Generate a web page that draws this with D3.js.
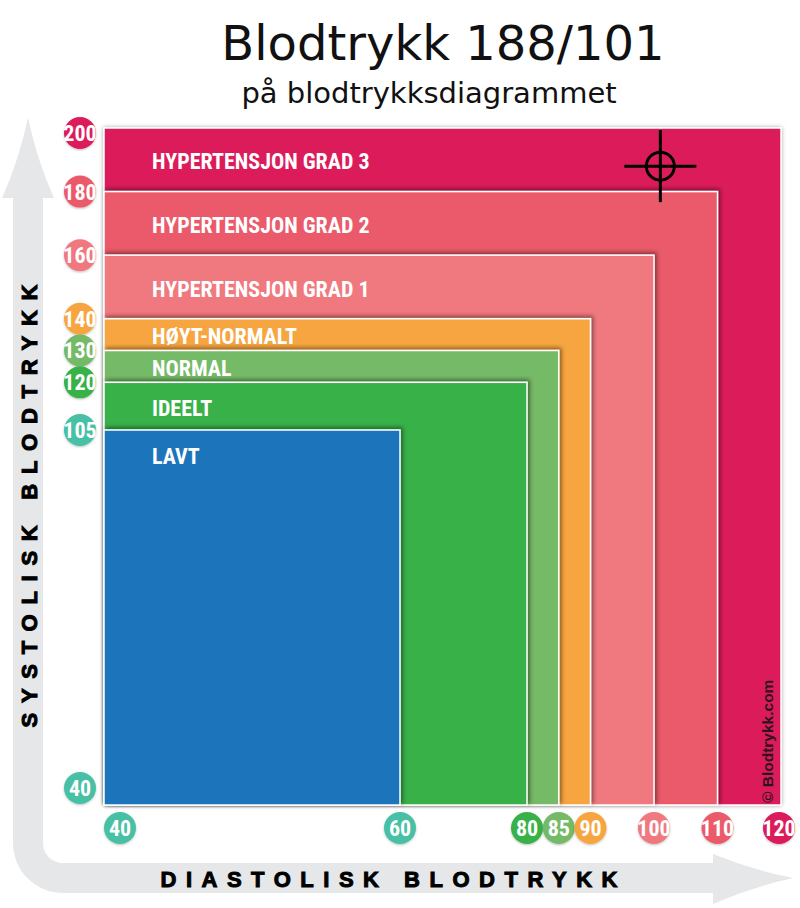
<!DOCTYPE html>
<html>
<head>
<meta charset="utf-8">
<script src="https://cdn.jsdelivr.net/npm/d3@7"></script>
<style>
  body { margin: 0; background: #fff; }
  svg { display: block; }
</style>
</head>
<body>
<div id="chart"></div>
<script>
// bands, drawn from the largest to the smallest
const categories = ["HYPERTENSJON GRAD 3", "HYPERTENSJON GRAD 2", "HYPERTENSJON GRAD 1",
                    "HØYT-NORMALT", "NORMAL", "IDEELT", "LAVT"];
const systolic  = [200, 180, 160, 140, 130, 120, 105];
const diastolic = [120, 110, 100, 90, 85, 80, 60];
const colors    = ["#dc1a5a", "#eb5a6a", "#f07980", "#f7a541", "#74ba66", "#39b14a", "#1c74bb"];

// tick circles
const sysTicks = [200, 180, 160, 140, 130, 120, 105, 40];
const sysTickColors = ["#dc1a5a", "#eb5a6a", "#f07980", "#f7a541", "#74ba66", "#39b14a", "#47c0a5", "#47c0a5"];
const diaTicks = [40, 60, 80, 85, 90, 100, 110, 120];
const diaTickColors = ["#47c0a5", "#47c0a5", "#39b14a", "#74ba66", "#f7a541", "#f07980", "#eb5a6a", "#dc1a5a"];

// the reading
const reading = { sys: 188, dia: 101 };

const width = 800, height = 908;
const narrow = "'Liberation Sans Narrow', 'Arial Narrow', 'Roboto Condensed', 'Liberation Sans', Arial, sans-serif";

const svg = d3.select("#chart").append("svg")
    .attr("width", width)
    .attr("height", height);

const defs = svg.append("defs");
const shadow = defs.append("filter")
    .attr("id", "shadow")
    .attr("x", "-10%").attr("y", "-10%")
    .attr("width", "120%").attr("height", "120%");
shadow.append("feDropShadow")
    .attr("dx", 2).attr("dy", -2)
    .attr("stdDeviation", 2.2)
    .attr("flood-color", "#000")
    .attr("flood-opacity", 0.45);

const outerShadow = defs.append("filter")
    .attr("id", "outer-shadow")
    .attr("x", "-5%").attr("y", "-5%")
    .attr("width", "110%").attr("height", "110%");
outerShadow.append("feDropShadow")
    .attr("dx", 0).attr("dy", 0)
    .attr("stdDeviation", 2)
    .attr("flood-color", "#000")
    .attr("flood-opacity", 0.35);

const dotShadow = defs.append("filter")
    .attr("id", "dot-shadow")
    .attr("x", "-30%").attr("y", "-30%")
    .attr("width", "160%").attr("height", "160%");
dotShadow.append("feDropShadow")
    .attr("dx", 0).attr("dy", 1)
    .attr("stdDeviation", 1.2)
    .attr("flood-color", "#000")
    .attr("flood-opacity", 0.25);

// scales are piecewise: the low end is stretched on both axes
const x = d3.scaleLinear()
    .domain([40, 60, 120])
    .range([104, 400, 781]);

const y = d3.scaleLinear()
    .domain([40, 105, 200])
    .range([805, 430, 128]);

// grey L-shaped arrow behind the axes
const arrow = d3.path();
arrow.moveTo(28, 118);
arrow.quadraticCurveTo(37, 160, 54, 198);
arrow.lineTo(43, 198);
arrow.lineTo(43, 843);
arrow.arcTo(43, 863, 63, 863, 20);
arrow.lineTo(713, 863);
arrow.lineTo(713, 854);
arrow.quadraticCurveTo(752, 870, 793, 878);
arrow.quadraticCurveTo(752, 887, 713, 904);
arrow.lineTo(713, 893);
arrow.lineTo(63, 893);
arrow.arcTo(13, 893, 13, 843, 50);
arrow.lineTo(13, 198);
arrow.lineTo(2, 198);
arrow.quadraticCurveTo(19, 160, 28, 118);
arrow.closePath();

svg.append("path")
    .attr("d", arrow.toString())
    .style("fill", "#e6e7e8");

// titles
svg.append("text")
    .attr("x", 443)
    .attr("y", 60)
    .style("text-anchor", "middle")
    .style("font-family", "'DejaVu Sans', Verdana, sans-serif")
    .style("font-size", "48px")
    .style("fill", "#111")
    .text("Blodtrykk 188/101");

svg.append("text")
    .attr("x", 429)
    .attr("y", 103)
    .style("text-anchor", "middle")
    .style("font-family", "'DejaVu Sans', Verdana, sans-serif")
    .style("font-size", "29px")
    .style("fill", "#111")
    .text("på blodtrykksdiagrammet");

// nested bands
const bands = categories.map((c, i) => ({
    name: c, sys: systolic[i], dia: diastolic[i], color: colors[i],
    next: i < systolic.length - 1 ? systolic[i + 1] : null
}));

svg.append("g")
    .selectAll("rect")
    .data(bands)
    .enter().append("rect")
    .attr("x", x(40))
    .attr("y", d => y(d.sys))
    .attr("width", d => x(d.dia) - x(40))
    .attr("height", d => y(40) - y(d.sys))
    .attr("filter", (d, i) => i === 0 ? "url(#outer-shadow)" : "url(#shadow)")
    .style("fill", d => d.color)
    .style("stroke", "#fff")
    .style("stroke-width", 1.5);

svg.append("g")
    .selectAll("text")
    .data(bands)
    .enter().append("text")
    .attr("x", 152)
    .attr("y", d => d.next !== null ? (y(d.sys) + y(d.next)) / 2 + 2 : y(d.sys) + 26)
    .attr("dy", ".35em")
    .style("font-family", narrow)
    .style("font-weight", "bold")
    .style("font-size", "22px")
    .style("fill", "#fff")
    .text(d => d.name);

// copyright
svg.append("text")
    .attr("transform", `translate(773,803) rotate(-90)`)
    .style("font-family", "'Liberation Sans', Arial, sans-serif")
    .style("font-weight", "bold")
    .style("font-size", "15.5px")
    .style("fill", "#2e1420")
    .text("© Blodtrykk.com");

// reading marker
const cx = x(reading.dia), cy = y(reading.sys);
const marker = svg.append("g")
    .attr("transform", `translate(${cx},${cy})`)
    .style("stroke", "#000")
    .style("stroke-width", 3)
    .style("fill", "none");
marker.append("circle").attr("r", 14);
marker.append("line").attr("x1", -36).attr("x2", 36);
marker.append("line").attr("y1", -36).attr("y2", 36);

// tick circles on the systolic axis
const sysG = svg.append("g")
    .selectAll("g")
    .data(sysTicks)
    .enter().append("g")
    .attr("transform", d => `translate(80,${Math.min(Math.max(y(d), 133), 788)})`);

sysG.append("circle")
    .attr("r", 16)
    .attr("filter", "url(#dot-shadow)")
    .style("fill", (d, i) => sysTickColors[i]);

sysG.append("text")
    .attr("dy", ".36em")
    .style("text-anchor", "middle")
    .style("font-family", narrow)
    .style("font-weight", "bold")
    .style("font-size", "22px")
    .style("fill", "#fff")
    .text(d => d);

// tick circles on the diastolic axis
const diaG = svg.append("g")
    .selectAll("g")
    .data(diaTicks)
    .enter().append("g")
    .attr("transform", d => `translate(${Math.min(Math.max(x(d), 120), 779)},828)`);

diaG.append("circle")
    .attr("r", 16)
    .attr("filter", "url(#dot-shadow)")
    .style("fill", (d, i) => diaTickColors[i]);

diaG.append("text")
    .attr("dy", ".36em")
    .style("text-anchor", "middle")
    .style("font-family", narrow)
    .style("font-weight", "bold")
    .style("font-size", "22px")
    .style("fill", "#fff")
    .text(d => d);

// axis titles
svg.append("text")
    .attr("transform", "translate(37,506) rotate(-90)")
    .attr("textLength", 443)
    .attr("lengthAdjust", "spacing")
    .style("text-anchor", "middle")
    .style("font-family", "'Liberation Sans', Arial, sans-serif")
    .style("font-weight", "bold")
    .style("font-size", "22px")
    .style("fill", "#000")
    .style("stroke", "#000")
    .style("stroke-width", 1)
    .text("SYSTOLISK BLODTRYKK");

svg.append("text")
    .attr("x", 389)
    .attr("y", 887)
    .attr("textLength", 457)
    .attr("lengthAdjust", "spacing")
    .style("text-anchor", "middle")
    .style("font-family", "'Liberation Sans', Arial, sans-serif")
    .style("font-weight", "bold")
    .style("font-size", "22px")
    .style("fill", "#000")
    .style("stroke", "#000")
    .style("stroke-width", 1)
    .text("DIASTOLISK BLODTRYKK");
</script>
</body>
</html>
